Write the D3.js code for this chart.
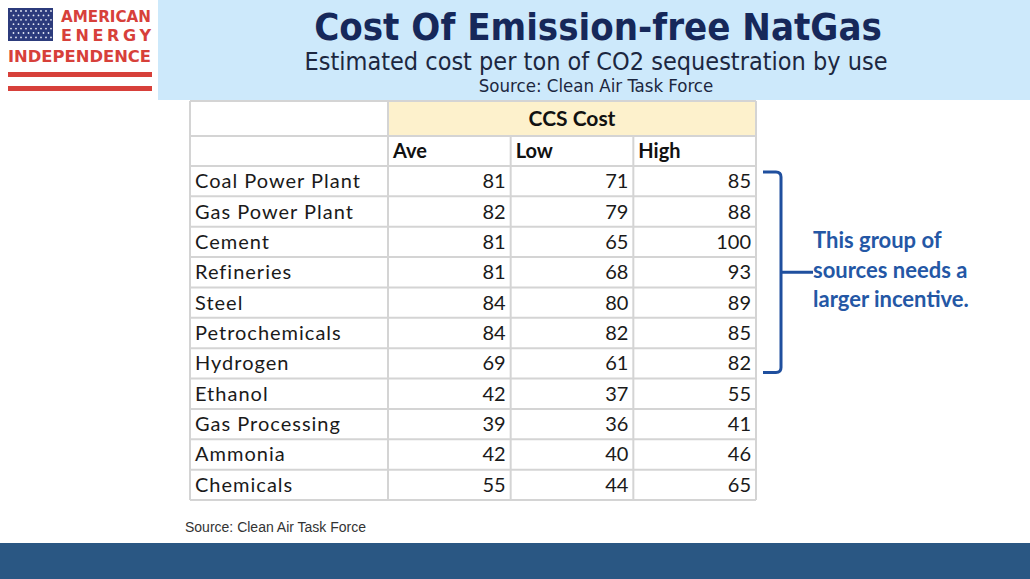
<!DOCTYPE html>
<meta charset="utf-8">
<script src="https://d3js.org/d3.v7.min.js"></script>
<style>
  body { margin: 0; background: #fff; }
  text { font-family: Lato, "Open Sans", sans-serif; }
</style>
<body>
</body>
<script>

var categories = ["Coal Power Plant", "Gas Power Plant", "Cement", "Refineries", "Steel",
                  "Petrochemicals", "Hydrogen", "Ethanol", "Gas Processing", "Ammonia", "Chemicals"];
var ave  = [81, 82, 81, 81, 84, 84, 69, 42, 39, 42, 55];
var low  = [71, 79, 65, 68, 80, 82, 61, 37, 36, 40, 44];
var high = [85, 88, 100, 93, 89, 85, 82, 55, 41, 46, 65];
var columns = ["Ave", "Low", "High"];
var bracketGroup = ["Coal Power Plant", "Hydrogen"];
var noteLines = ["This group of", "sources needs a", "larger incentive."];

var W = 1030, H = 579;

var svg = d3.select("body").append("svg")
    .attr("width", W)
    .attr("height", H);

// header band
svg.append("rect").attr("x", 158).attr("y", 0).attr("width", W - 158).attr("height", 100)
    .attr("fill", "#cde9fb");

svg.append("text").attr("x", 598).attr("y", 40)
    .attr("text-anchor", "middle")
    .style("font-family", "'DejaVu Sans Condensed', 'DejaVu Sans', sans-serif")
    .style("font-weight", "bold").style("font-size", "38px")
    .attr("fill", "#16285a")
    .text("Cost Of Emission-free NatGas");

svg.append("text").attr("x", 596).attr("y", 70)
    .attr("text-anchor", "middle")
    .style("font-family", "'DejaVu Sans Condensed', 'DejaVu Sans', sans-serif")
    .style("font-size", "25px")
    .attr("fill", "#1c2740")
    .text("Estimated cost per ton of CO2 sequestration by use");

svg.append("text").attr("x", 596).attr("y", 92)
    .attr("text-anchor", "middle")
    .style("font-family", "'DejaVu Sans Condensed', 'DejaVu Sans', sans-serif")
    .style("font-size", "18.5px")
    .attr("fill", "#1c2740")
    .text("Source: Clean Air Task Force");

// logo
var logo = svg.append("g");
logo.append("rect").attr("x", 8).attr("y", 8).attr("width", 45).attr("height", 33).attr("fill", "#2c3b7c");
for (var r = 0; r < 7; r++) {
  for (var c = 0; c < (r % 2 ? 8 : 9); c++) {
    logo.append("circle")
        .attr("cx", 11 + c * 5 + (r % 2 ? 2.5 : 0))
        .attr("cy", 11 + r * 4.4)
        .attr("r", 0.9)
        .attr("fill", "#e8ecf6");
  }
}
logo.append("text").attr("x", 151).attr("y", 22).attr("text-anchor", "end")
    .style("font-family", "'DejaVu Sans', sans-serif").style("font-weight", "bold").style("font-size", "16px")
    .attr("fill", "#d7403a").attr("textLength", 90).attr("lengthAdjust", "spacingAndGlyphs").text("AMERICAN");
logo.append("text").attr("x", 151).attr("y", 41).attr("text-anchor", "end")
    .style("font-family", "'DejaVu Sans', sans-serif").style("font-weight", "bold").style("font-size", "16px")
    .attr("fill", "#d7403a").attr("textLength", 90).attr("lengthAdjust", "spacing").text("ENERGY");
logo.append("text").attr("x", 8).attr("y", 62)
    .style("font-family", "'DejaVu Sans', sans-serif").style("font-weight", "bold").style("font-size", "16px")
    .attr("fill", "#d7403a").attr("textLength", 143).attr("lengthAdjust", "spacingAndGlyphs").text("INDEPENDENCE");
logo.append("rect").attr("x", 8).attr("y", 72).attr("width", 144).attr("height", 5).attr("fill", "#d7403a");
logo.append("rect").attr("x", 8).attr("y", 86).attr("width", 144).attr("height", 5).attr("fill", "#d7403a");

// table
var left = 190, labelW = 198, right = 756;
var yTop = 101, headH = 35, subH = 30, rowsTop = 166, rowsBottom = 500;

var x = d3.scaleBand().domain(columns).range([left + labelW, right]);
var y = d3.scaleBand().domain(categories).range([rowsTop, rowsBottom]);

var table = svg.append("g");
var grid = "#d4d4d4";

table.append("rect").attr("x", x("Ave")).attr("y", yTop)
    .attr("width", right - x("Ave")).attr("height", headH)
    .attr("fill", "#fdf1cc");

table.append("text")
    .attr("x", x("Ave") + (right - x("Ave")) / 2).attr("y", yTop + headH / 2 + 7)
    .attr("text-anchor", "middle")
    .style("font-weight", "bold").style("font-size", "21px").attr("fill", "#111")
    .text("CCS Cost");

table.selectAll(".colhead").data(columns).enter().append("text")
    .attr("x", function(d) { return x(d) + 5; })
    .attr("y", yTop + headH + subH / 2 + 7)
    .style("font-weight", "bold").style("font-size", "20px").attr("fill", "#111")
    .text(function(d) { return d; });

// grid lines
var hLines = [yTop, yTop + headH].concat(categories.map(function(d) { return y(d); })).concat([rowsBottom]);
table.selectAll(".hl").data(hLines).enter().append("line")
    .attr("x1", left).attr("x2", right)
    .attr("y1", function(d) { return d; }).attr("y2", function(d) { return d; })
    .attr("stroke", grid).attr("stroke-width", 2);

var vLines = [left].concat(columns.map(function(d) { return x(d); })).concat([right]);
table.selectAll(".vl").data(vLines).enter().append("line")
    .attr("x1", function(d) { return d; }).attr("x2", function(d) { return d; })
    .attr("y1", function(d, i) { return (i <= 1 || i === vLines.length - 1) ? yTop : yTop + headH; })
    .attr("y2", rowsBottom)
    .attr("stroke", grid).attr("stroke-width", 2);

var rows = table.selectAll(".row").data(categories).enter().append("g");

rows.append("text")
    .attr("x", left + 5)
    .attr("y", function(d) { return y(d) + y.bandwidth() / 2 + 7; })
    .style("font-size", "20px").style("letter-spacing", "1px").attr("fill", "#1a1a1a")
    .text(function(d) { return d; });

var series = { "Ave": ave, "Low": low, "High": high };
columns.forEach(function(col) {
  rows.append("text")
      .attr("x", x(col) + x.bandwidth() - 5)
      .attr("y", function(d) { return y(d) + y.bandwidth() / 2 + 7; })
      .attr("text-anchor", "end")
      .style("font-size", "20px").attr("fill", "#1a1a1a")
      .text(function(d, i) { return series[col][i]; });
});

// bracket
var bTop = y(bracketGroup[0]) + 6, bBot = y(bracketGroup[1]) + y.bandwidth() - 6;
var bx = right + 25, bMid = (bTop + bBot) / 2;
var blue = "#1f4f9e";
svg.append("path")
    .attr("d", "M" + (right + 7) + "," + bTop + " L" + (bx - 5) + "," + bTop +
               " Q" + bx + "," + bTop + " " + bx + "," + (bTop + 5) +
               " L" + bx + "," + (bBot - 5) +
               " Q" + bx + "," + bBot + " " + (bx - 5) + "," + bBot +
               " L" + (right + 7) + "," + bBot +
               " M" + bx + "," + bMid + " L" + (bx + 32) + "," + bMid)
    .attr("fill", "none").attr("stroke", blue).attr("stroke-width", 3);

svg.selectAll(".note").data(noteLines).enter().append("text")
    .attr("x", bx + 32)
    .attr("y", function(d, i) { return bMid - 24 + i * 29.5; })
    .style("font-weight", "bold").style("font-size", "22px").attr("fill", "#2457a5")
    .text(function(d) { return d; });

// source
svg.append("text").attr("x", 185).attr("y", 532)
    .style("font-family", "'Liberation Sans Narrow', 'Liberation Sans', Arial, sans-serif")
    .style("font-size", "14px").attr("fill", "#333")
    .text("Source: Clean Air Task Force");

// bottom band
svg.append("rect").attr("x", 0).attr("y", 543).attr("width", W).attr("height", H - 543)
    .attr("fill", "#2a5783");

</script>
